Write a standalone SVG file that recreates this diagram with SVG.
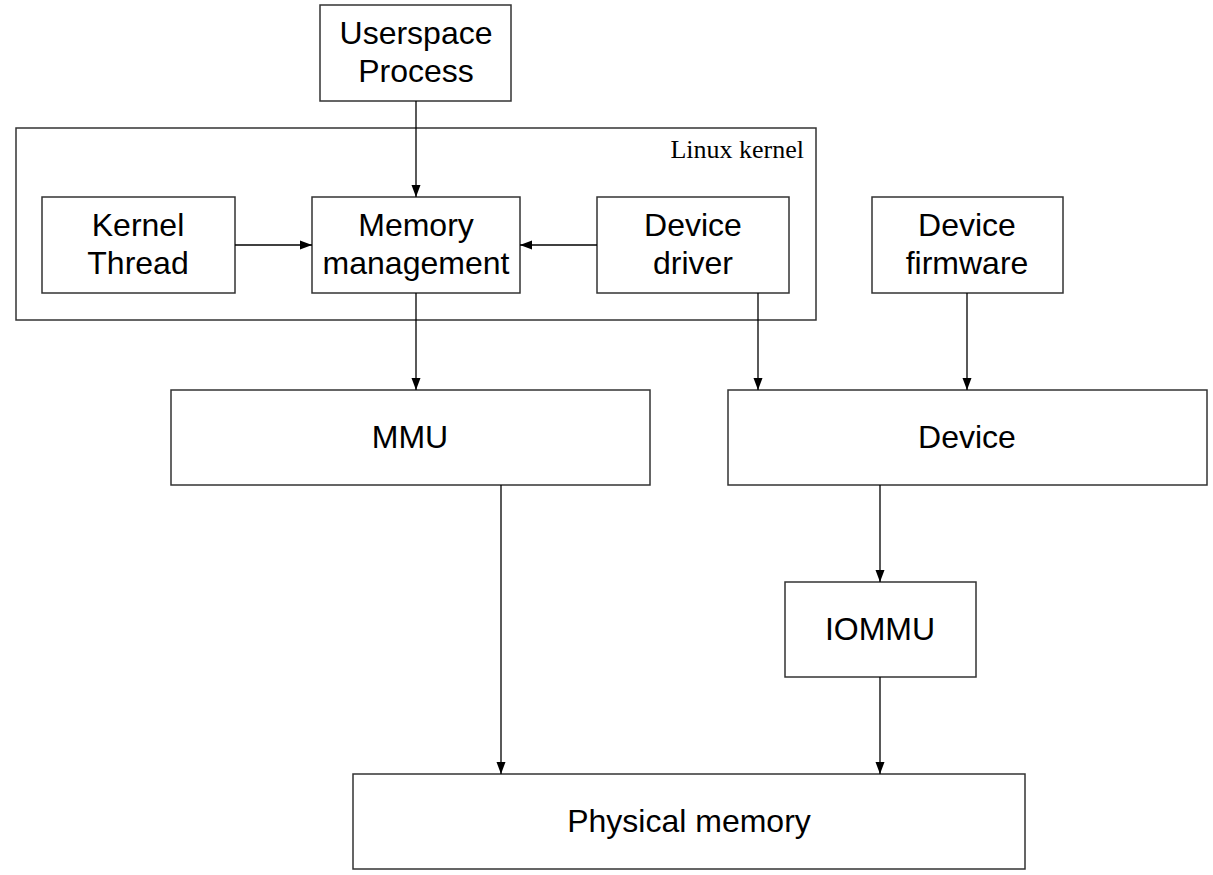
<svg xmlns="http://www.w3.org/2000/svg" width="1213" height="875" viewBox="0 0 1213 875">
<style>
.box{fill:#fff;stroke:#333;stroke-width:1.5}
.lbl{font-family:"Liberation Sans",Arial,sans-serif;font-size:32px;fill:#000;text-anchor:middle}
.ker{font-family:"Liberation Serif","Times New Roman",serif;font-size:26px;fill:#000;text-anchor:end}
.con{stroke:#000;stroke-width:1.3;fill:none;marker-end:url(#ah)}
</style>
<defs>
<marker id="ah" viewBox="0 0 12 10" refX="12" refY="5" markerWidth="12" markerHeight="10" markerUnits="userSpaceOnUse" orient="auto">
<path d="M0,0.5 L12,5 L0,9.5 Z" fill="#000"/>
</marker>
</defs>
<rect width="1213" height="875" fill="#fff"/>
<g id="linux-kernel">
<rect class="box" x="16" y="128" width="800" height="192"/>
<text class="ker" x="804" y="158">Linux kernel</text>
</g>
<g id="userspace">
<rect class="box" x="320" y="5" width="191" height="96"/>
<text class="lbl" x="416" y="44">Userspace</text>
<text class="lbl" x="416" y="82">Process</text>
</g>
<g id="kernel-thread">
<rect class="box" x="42" y="197" width="193" height="96"/>
<text class="lbl" x="138" y="236">Kernel</text>
<text class="lbl" x="138" y="274">Thread</text>
</g>
<g id="memory-management">
<rect class="box" x="312" y="197" width="208" height="96"/>
<text class="lbl" x="416" y="236">Memory</text>
<text class="lbl" x="416" y="274">management</text>
</g>
<g id="device-driver">
<rect class="box" x="597" y="197" width="192" height="96"/>
<text class="lbl" x="693" y="236">Device</text>
<text class="lbl" x="693" y="274">driver</text>
</g>
<g id="device-firmware">
<rect class="box" x="872" y="197" width="191" height="96"/>
<text class="lbl" x="967" y="236">Device</text>
<text class="lbl" x="967" y="274">firmware</text>
</g>
<g id="mmu">
<rect class="box" x="171" y="390" width="479" height="95"/>
<text class="lbl" x="410" y="448">MMU</text>
</g>
<g id="device">
<rect class="box" x="728" y="390" width="479" height="95"/>
<text class="lbl" x="967" y="448">Device</text>
</g>
<g id="iommu">
<rect class="box" x="785" y="582" width="191" height="95"/>
<text class="lbl" x="880" y="640">IOMMU</text>
</g>
<g id="physical-memory">
<rect class="box" x="353" y="774" width="672" height="95"/>
<text class="lbl" x="689" y="832">Physical memory</text>
</g>
<g id="connectors">
<line class="con" x1="416" y1="101" x2="416" y2="197"/>
<line class="con" x1="235" y1="245" x2="312" y2="245"/>
<line class="con" x1="597" y1="245" x2="520" y2="245"/>
<line class="con" x1="416" y1="293" x2="416" y2="390"/>
<line class="con" x1="758" y1="293" x2="758" y2="390"/>
<line class="con" x1="967" y1="293" x2="967" y2="390"/>
<line class="con" x1="501" y1="485" x2="501" y2="774"/>
<line class="con" x1="880" y1="485" x2="880" y2="582"/>
<line class="con" x1="880" y1="677" x2="880" y2="774"/>
</g>
</svg>
